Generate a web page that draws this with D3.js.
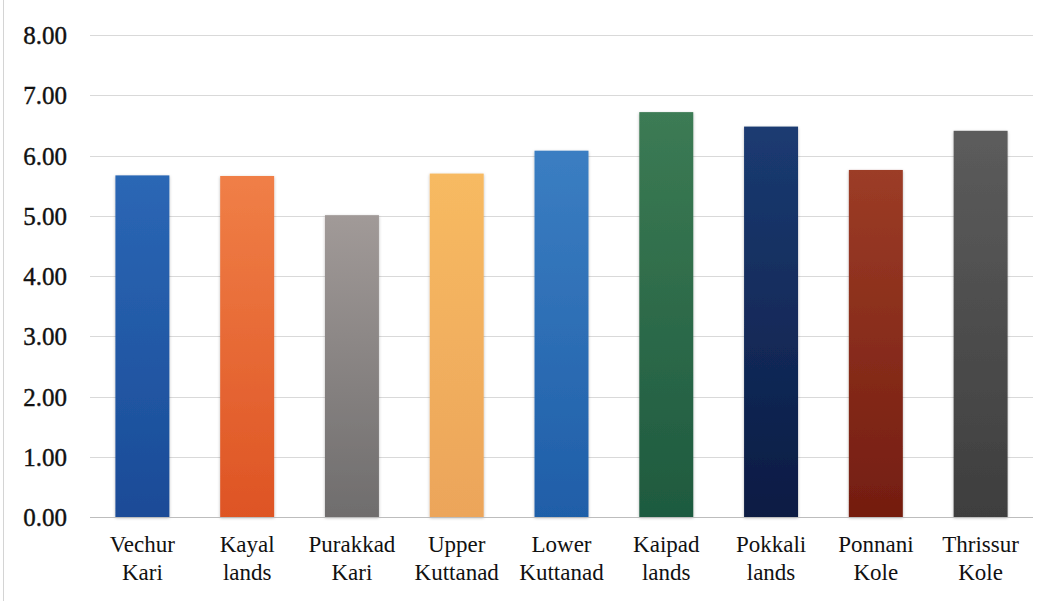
<!DOCTYPE html>
<html>
<head>
<meta charset="utf-8">
<script src="https://cdn.jsdelivr.net/npm/d3@7"></script>
<style>
  svg#chart text, svg#chart tspan { font-family: "Liberation Serif", "Times New Roman", Tinos !important; }
</style>
</head>
<body style="margin:0">
<svg id="chart" width="1057" height="601"></svg>
<script>
// Regions (two-line labels) and their values
const categories = [
  "Vechur Kari", "Kayal lands", "Purakkad Kari", "Upper Kuttanad", "Lower Kuttanad",
  "Kaipad lands", "Pokkali lands", "Ponnani Kole", "Thrissur Kole"
];
const labelLines = [
  ["Vechur", "Kari"], ["Kayal", "lands"], ["Purakkad", "Kari"], ["Upper", "Kuttanad"],
  ["Lower", "Kuttanad"], ["Kaipad", "lands"], ["Pokkali", "lands"], ["Ponnani", "Kole"],
  ["Thrissur", "Kole"]
];
const values = [5.67, 5.66, 5.01, 5.70, 6.08, 6.72, 6.48, 5.76, 6.41];
const yTicks = [0, 1, 2, 3, 4, 5, 6, 7, 8];

// Bar fills: lighter top, darker bottom
const topColors = ["#2b67b5", "#f07f47", "#a19a98", "#f7ba62", "#3b7ec2", "#3c7b54", "#1b3b72", "#9c3c26", "#5c5c5c"];
const bottomColors = ["#1a4b97", "#de5424", "#6f6d6d", "#eca55a", "#1f5ea8", "#1e5a3f", "#0b1b43", "#741d10", "#3e3e3e"];

// Times-style face for every label
const FONT = '"Liberation Serif"';

const svg = d3.select("#chart");
const margin = { left: 90, right: 24, top: 35, bottom: 84 };
const W = 1057, H = 601;

const x = d3.scaleBand()
  .domain(categories)
  .range([margin.left, W - margin.right])
  .paddingInner(0.485)
  .paddingOuter(0.2425);

const y = d3.scaleLinear()
  .domain([0, 8])
  .range([H - margin.bottom, margin.top]);

// Thin frame edge on the left
svg.append("line")
  .attr("x1", 3.5).attr("x2", 3.5)
  .attr("y1", 0).attr("y2", H)
  .attr("stroke", "#d4d4d4").attr("stroke-width", 1);

const defs = svg.append("defs");
categories.forEach((c, i) => {
  const g = defs.append("linearGradient")
    .attr("id", "grad" + i)
    .attr("x1", 0).attr("x2", 0).attr("y1", 0).attr("y2", 1);
  g.append("stop").attr("offset", "0%").attr("stop-color", topColors[i]);
  g.append("stop").attr("offset", "100%").attr("stop-color", bottomColors[i]);
});
const shadow = defs.append("filter").attr("id", "shadow")
  .attr("x", "-20%").attr("y", "-5%").attr("width", "140%").attr("height", "110%");
shadow.append("feDropShadow")
  .attr("dx", 0).attr("dy", 1).attr("stdDeviation", 1.6)
  .attr("flood-color", "#000").attr("flood-opacity", 0.28);

// Gridlines
svg.append("g")
  .selectAll("line")
  .data(yTicks.filter(t => t > 0))
  .join("line")
  .attr("x1", margin.left).attr("x2", W - margin.right)
  .attr("y1", d => Math.round(y(d)) + 0.5).attr("y2", d => Math.round(y(d)) + 0.5)
  .attr("stroke", "#d9d9d9").attr("stroke-width", 1);

// Bars
svg.append("g")
  .selectAll("rect")
  .data(values)
  .join("rect")
  .attr("x", (d, i) => x(categories[i]))
  .attr("width", x.bandwidth())
  .attr("y", d => y(d))
  .attr("height", d => y(0) - y(d))
  .attr("fill", (d, i) => `url(#grad${i})`)
  .attr("filter", "url(#shadow)");

// Baseline
svg.append("line")
  .attr("x1", margin.left).attr("x2", W - margin.right)
  .attr("y1", Math.round(y(0)) + 0.5).attr("y2", Math.round(y(0)) + 0.5)
  .attr("stroke", "#bdbdbd").attr("stroke-width", 1.2);

// Y axis labels
const yAxis = d3.axisLeft(y).tickValues(yTicks).tickFormat(d3.format(".2f")).tickSize(0).tickPadding(0);
const yg = svg.append("g").attr("transform", `translate(67,0)`).call(yAxis);
yg.attr("font-family", FONT).attr("font-size", 25);
yg.select(".domain").remove();
yg.selectAll("text")
  .attr("fill", "#111")
  .style("font-family", () => FONT)
  .style("font-size", "25px")
  .style("stroke", "#111").style("stroke-width", 0.4)
  .attr("dy", "0.34em");

// X axis labels (two lines each)
const xg = svg.append("g").attr("font-family", FONT);
xg.selectAll("text")
  .data(categories)
  .join("text")
  .attr("x", d => x(d) + x.bandwidth() / 2)
  .attr("y", 552)
  .attr("text-anchor", "middle")
  .attr("fill", "#111")
  .style("font-family", () => FONT)
  .style("font-size", "23px")
  .each(function (d, i) {
    const t = d3.select(this);
    labelLines[i].forEach((line, k) => {
      t.append("tspan")
        .attr("x", x(d) + x.bandwidth() / 2)
        .attr("dy", k === 0 ? 0 : 28)
        .text(line);
    });
  });
</script>
</body>
</html>
